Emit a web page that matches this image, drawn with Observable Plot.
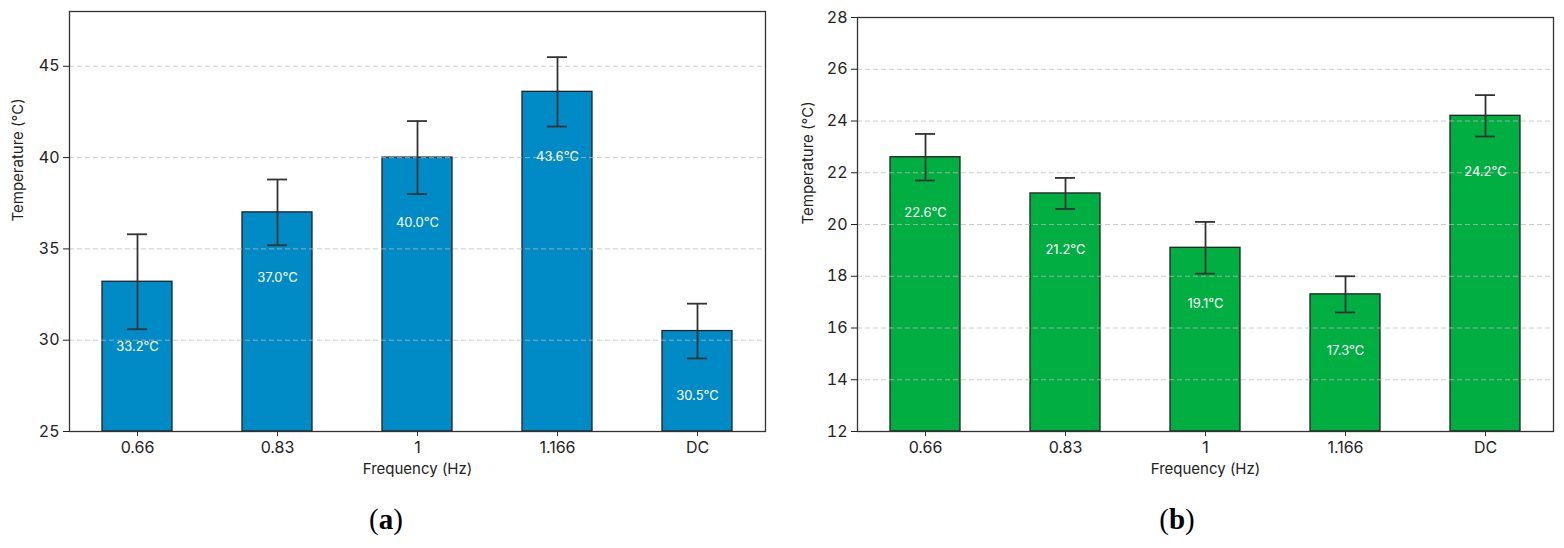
<!DOCTYPE html>
<html>
<head>
<meta charset="utf-8">
<script src="https://cdn.jsdelivr.net/npm/d3@7"></script>
<script src="https://cdn.jsdelivr.net/npm/@observablehq/plot@0.6"></script>
<style>
  html, body { margin: 0; padding: 0; background: #fff; }
  #root { position: relative; width: 1564px; height: 548px; font-family: Inter, "Open Sans", sans-serif; }
  .panel { position: absolute; top: 0; }
  .cap { position: absolute; top: 503px; font-family: "Liberation Serif", "DejaVu Serif", serif; font-size: 29px; color: #000; transform: translateX(-50%); }
  .cap b { font-weight: bold; }
</style>
</head>
<body>
<div id="root">
  <div class="panel" id="pa" style="left:0px"></div>
  <div class="panel" id="pb" style="left:782px"></div>
  <div class="cap" style="left:386px">(<b>a</b>)</div>
  <div class="cap" style="left:1177px">(<b>b</b>)</div>
</div>
<script>
// ---- data ----
const categories = ["0.66", "0.83", "1", "1.166", "DC"];
const tempA = [33.2, 37.0, 40.0, 43.6, 30.5];
const errA  = [2.6, 1.8, 2.0, 1.9, 1.5];
const tempB = [22.6, 21.2, 19.1, 17.3, 24.2];
const errB  = [0.9, 0.6, 1.0, 0.7, 0.8];
const yDomainA = [25, 48];
const yTicksA = [25, 30, 35, 40, 45];
const yDomainB = [12, 28];
const yTicksB = [12, 14, 16, 18, 20, 22, 24, 26, 28];
const xLabel = "Frequency (Hz)";
const yLabel = "Temperature (°C)";

function panel({values, errors, domain, ticks, color, marginLeft, marginRight, marginTop, labelDy, yLabelDx}) {
  const rows = categories.map((c, i) => ({cat: c, v: values[i], lo: values[i] - errors[i], hi: values[i] + errors[i]}));
  const font = "Inter, 'Open Sans', sans-serif";
  return Plot.plot({
    width: 782,
    height: 490,
    marginLeft, marginRight, marginTop,
    marginBottom: 59,
    style: {fontFamily: font, color: "#222", background: "transparent"},
    x: {domain: categories, paddingInner: 0.5, paddingOuter: 0.225, label: null},
    y: {domain, label: null},
    marks: [
      Plot.barY(rows, {x: "cat", y1: () => domain[0], y2: "v", fill: color, stroke: "#222", strokeWidth: 1.3}),
      Plot.gridY(ticks, {stroke: "#bbb", strokeOpacity: 0.75, strokeDasharray: "5,3", strokeWidth: 1}),
      Plot.ruleX(rows, {x: "cat", y1: "lo", y2: "hi", stroke: "#333", strokeWidth: 1.8}),
      Plot.tickY(rows, {x: "cat", y: "lo", stroke: "#333", strokeWidth: 1.8, insetLeft: 25, insetRight: 25}),
      Plot.tickY(rows, {x: "cat", y: "hi", stroke: "#333", strokeWidth: 1.8, insetLeft: 25, insetRight: 25}),
      Plot.text(rows, {x: "cat", y: "v", text: d => d.v.toFixed(1) + "°C", fill: "#fff", fontSize: 13, dy: labelDy}),
      Plot.frame({stroke: "#333", strokeWidth: 1.3}),
      Plot.axisX({tickSize: 5, tickPadding: 5, fontSize: 16, label: null, stroke: "#333"}),
      Plot.axisY(ticks, {tickSize: 6, tickPadding: 4, fontSize: 16, label: null, tickFormat: d => String(d)}),
      Plot.text([xLabel], {frameAnchor: "bottom", dy: 42, fontSize: 15, fill: "#222"}),
      Plot.text([yLabel], {frameAnchor: "left", dx: yLabelDx, rotate: -90, fontSize: 15, fill: "#222"})
    ]
  });
}

document.getElementById("pa").appendChild(panel({
  values: tempA, errors: errA, domain: yDomainA, ticks: yTicksA, color: "#008BC6",
  marginLeft: 69, marginRight: 17, marginTop: 11, labelDy: 65, yLabelDx: -51
}));
document.getElementById("pb").appendChild(panel({
  values: tempB, errors: errB, domain: yDomainB, ticks: yTicksB, color: "#00AE42",
  marginLeft: 75, marginRight: 11, marginTop: 17, labelDy: 56, yLabelDx: -49
}));
</script>
</body>
</html>
